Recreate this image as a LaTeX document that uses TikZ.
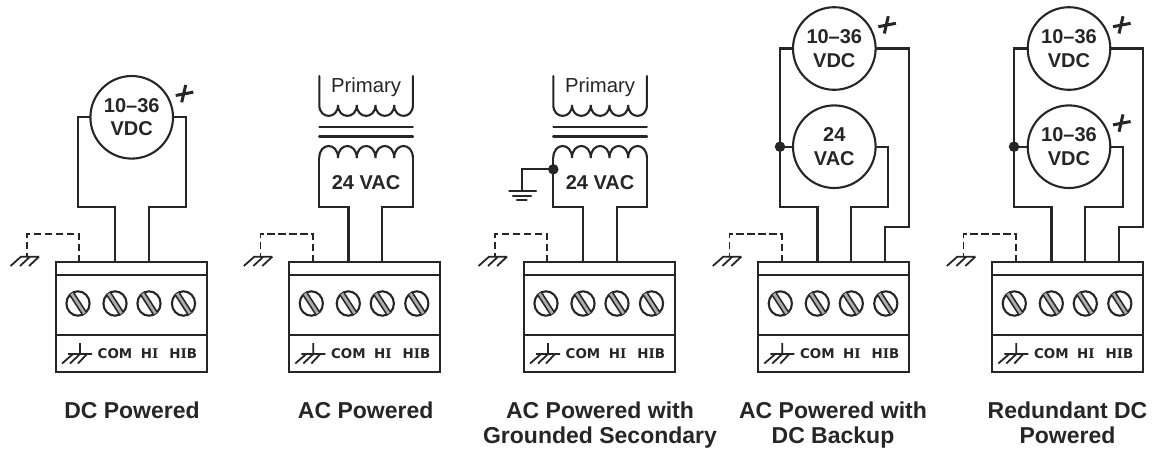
\documentclass[tikz,border=0pt]{standalone}
\usepackage{fontspec}
\setmainfont{Liberation Sans}
\newfontfamily\termfont{DejaVu Sans}
\newfontfamily\termserif{DejaVu Serif}
\definecolor{ink}{HTML}{262626}
\tikzset{
  wire/.style={draw=ink,line width=2.1pt,line cap=round,line join=miter},
  dashwire/.style={draw=ink,line width=1.9pt,dash pattern=on 7.5pt off 3.5pt},
  thinwire/.style={draw=ink,line width=1.5pt},
  supply/.style={circle,draw=ink,line width=2.1pt,minimum size=82.6pt,inner sep=0pt,align=center,text=ink,font=\bfseries\fontsize{20}{23.6}\selectfont},
  blockbox/.style={rectangle,draw=ink,line width=2.2pt,minimum width=150.8pt,minimum height=110pt,inner sep=0pt},
  termtext/.style={anchor=base,text=ink,inner sep=0pt,font=\termfont\bfseries\fontsize{13.4}{13.4}\selectfont},
  caption/.style={anchor=north,text=ink,align=center,inner sep=0pt,font=\bfseries\fontsize{23}{25}\selectfont},
  winding/.style={anchor=base,text=ink,inner sep=0pt},
  dotj/.style={circle,fill=ink,minimum size=10.5pt,inner sep=0pt},
  plusmark/.style={draw=ink,line width=3pt}
}
\newcommand{\screwat}[1]{%
  \draw[draw=ink,line width=2.1pt] (#1,303.5) ellipse (11.6pt and 12.2pt);
  \fill[gray!65] (#1-6.4-1.9,303.5-9.9+1.2) -- (#1+6.4-1.9,303.5+9.9+1.2) -- (#1+6.4+1.9,303.5+9.9-1.2) -- (#1-6.4+1.9,303.5-9.9-1.2) -- cycle;
  \draw[thinwire] (#1-6.4-1.9,303.5-9.9+1.2) -- (#1+6.4-1.9,303.5+9.9+1.2);
  \draw[thinwire] (#1-6.4+1.9,303.5-9.9-1.2) -- (#1+6.4+1.9,303.5+9.9-1.2);
}
\newcommand{\terminal}[2]{%
  \begin{scope}[shift={(#2,0)}]
    \node[blockbox] (#1box) at (75.4,317) {};
    \draw[thinwire] (0,275) -- (150.8,275);
    \draw[wire,line cap=butt] (0,335) -- (150.8,335);
    \screwat{22}\screwat{59}\screwat{93}\screwat{127.5}
    % chassis symbol printed in the block
    \draw[draw=ink,line width=1.8pt] (24,343) -- (24,354) (12,354) -- (36,354)
      (17,354) -- (6,363.5) (24,354) -- (14,363.5) (31,354) -- (22,363.5);
    \node[termtext] (#1tc) at (59,358.2) {COM};
    \node[termtext] (#1th) at (93.6,358.2) {H{\termserif I}};
    \node[termtext] (#1tb) at (127.2,358.2) {H{\termserif I}B};
    \coordinate (#1com) at (59.2,262);
    \coordinate (#1hi) at (93,262);
    \coordinate (#1hib) at (127,262);
    \coordinate (#1d) at (23.3,262);
    \coordinate (#1c) at (23.3,234);
    \coordinate (#1g) at (-28.8,256.7);
    \draw[dashwire] (#1d) -- (#1c) -| (#1g);
    \draw[draw=ink,line width=1.8pt] (-36,256.7) -- (-17,256.7)
      (-35,256.7) -- (-45.5,266) (-26,256.7) -- (-36,266) (-17,256.7) -- (-27,266);
  \end{scope}
}
\newcommand{\plusat}[2]{%
  \draw[plusmark] (#1+44,#2-21.8) -- (#1+61.6,#2-25.2) (#1+54,#2-32.3) -- (#1+50,#2-15);
}
\newcommand{\xfmr}[2]{%
  \begin{scope}[shift={(#2,0)}]
    \draw[wire] (0,76) -- (0,105)
      foreach \i in {0,...,4} { .. controls (\i*18.72,119.5) and (\i*18.72+18.72,119.5) .. (\i*18.72+18.72,105) }
      -- (93.6,76);
    \draw[wire,line width=1.9pt] (0,127.3) -- (93.6,127.3);
    \draw[wire,line width=2.5pt] (0,136.7) -- (93.6,136.7);
    \draw[wire] (0,158)
      foreach \i in {0,...,4} { .. controls (\i*18.72,142) and (\i*18.72+18.72,142) .. (\i*18.72+18.72,158) };
    \node[winding,font=\fontsize{20.3}{20.3}\selectfont] (#1p) at (46.8,92) {Primary};
    \node[winding,font=\bfseries\fontsize{20}{20}\selectfont] (#1s) at (46.8,189.3) {24 VAC};
    \coordinate (#1ll) at (0,158);
    \coordinate (#1rr) at (93.6,158);
    \coordinate (#1lb) at (0,207.3);
    \coordinate (#1rb) at (93.6,207.3);
  \end{scope}
}
\begin{document}
\begin{tikzpicture}[x=1pt,y=-1pt]
\useasboundingbox[fill=white] (0,0) rectangle (1155,451);

% Panel 1
\terminal{a}{56}
\node[supply] (av) at (131.7,117.3) {10–36\\VDC};
\plusat{131.7}{117.3}
\coordinate (al) at (77.7,207.3);
\coordinate (ar) at (185.7,207.3);
\draw[wire] (av.west) -| (al) -| (acom);
\draw[wire] (av.east) -| (ar) -| (ahi);
\node[caption] (acap) at (132,401.5) {DC Powered};

% Panel 2
\terminal{b}{289.3}
\xfmr{bx}{319.3}
\draw[wire] (bxll) -- (bxlb) -| (bcom);
\draw[wire] (bxrr) -- (bxrb) -| (bhi);
\node[caption] (bcap) at (365.7,401.5) {AC Powered};

% Panel 3
\terminal{c}{524}
\xfmr{cx}{553.3}
\draw[wire] (cxll) -- (cxlb) -| (ccom);
\draw[wire] (cxrr) -- (cxrb) -| (chi);
\node[dotj] (cj) at (553.3,169.3) {};
\coordinate (cgt) at (521.7,191);
\draw[wire] (cj.center) -| (cgt);
\draw[wire,line width=2.2pt] (509.3,191) -- (536,191) (513,195.8) -- (531,195.8) (517,200.2) -- (526.5,200.2);
\node[caption] (ccap) at (600,401.5) {AC Powered with\\Grounded Secondary};

% Panel 4
\terminal{d}{758.3}
\node[supply] (dv) at (834.3,48.5) {10–36\\VDC};
\node[supply] (da) at (834.3,146.7) {24\\VAC};
\plusat{834.3}{48.5}
\coordinate (dl) at (780,207.3);
\coordinate (dr) at (887.7,207.3);
\coordinate (do) at (909.1,226.7);
\node[dotj] (dj) at (780,146.7) {};
\draw[wire] (dv.west) -| (dj.center) -- (dl) -| (dcom);
\draw[wire] (dj.center) -- (da.west);
\draw[wire] (da.east) -| (dr) -| (dhi);
\draw[wire] (dv.east) -| (do) -| (dhib);
\node[caption] (dcap) at (833,401.5) {AC Powered with\\DC Backup};

% Panel 5
\terminal{e}{992.3}
\node[supply] (ev) at (1069,48.5) {10–36\\VDC};
\node[supply] (ew) at (1069,146.7) {10–36\\VDC};
\plusat{1069}{48.5}
\plusat{1069}{146.7}
\coordinate (el) at (1014,207.3);
\coordinate (er) at (1122.7,207.3);
\coordinate (eo) at (1143.1,226.7);
\node[dotj] (ej) at (1014,146.7) {};
\draw[wire] (ev.west) -| (ej.center) -- (el) -| (ecom);
\draw[wire] (ej.center) -- (ew.west);
\draw[wire] (ew.east) -| (er) -| (ehi);
\draw[wire] (ev.east) -| (eo) -| (ehib);
\node[caption] (ecap) at (1067.5,401.5) {Redundant DC\\Powered};
\end{tikzpicture}
\end{document}
